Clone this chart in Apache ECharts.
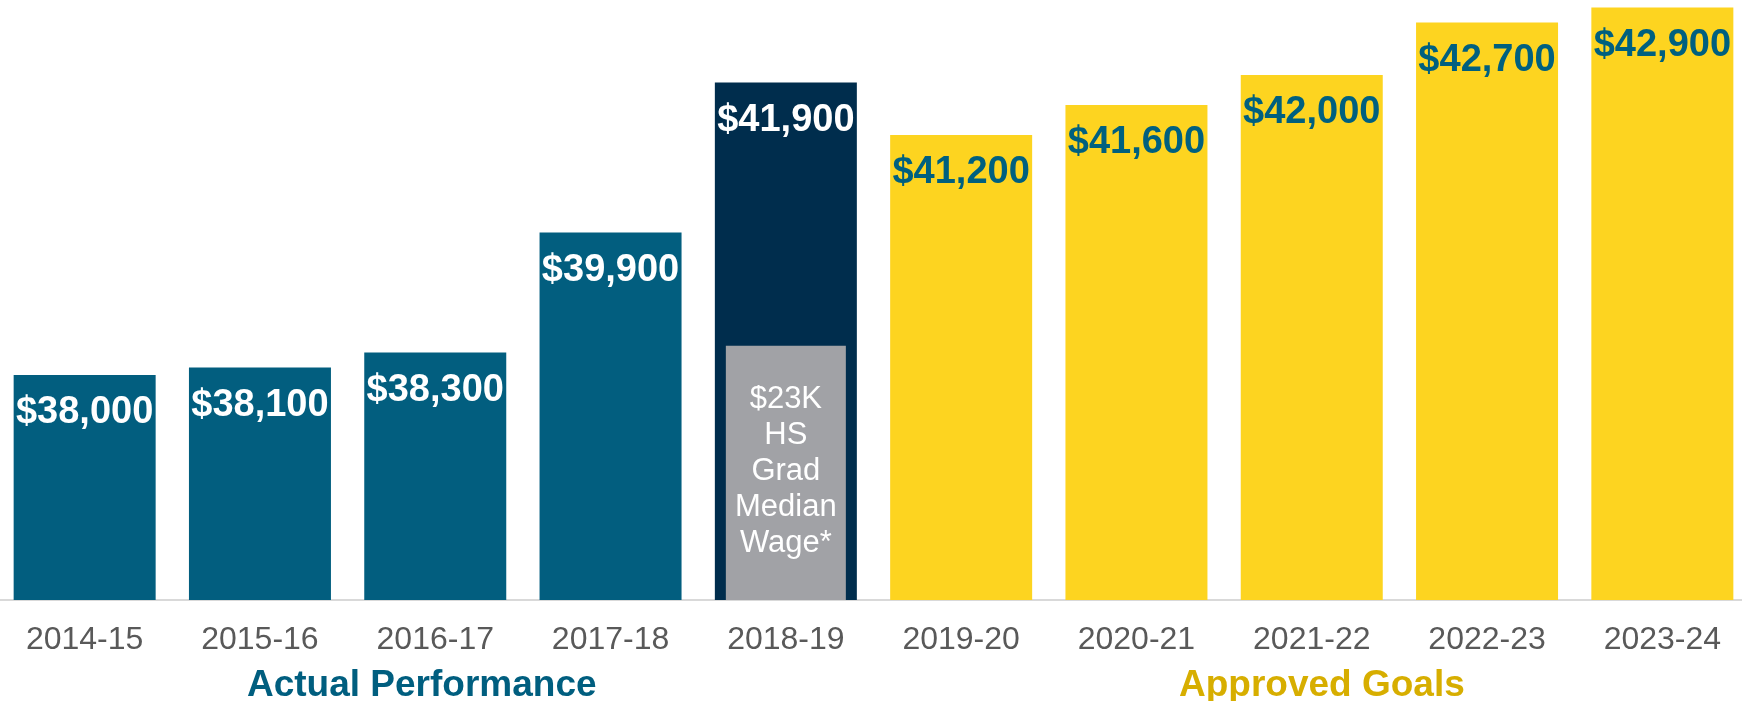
<!DOCTYPE html>
<html>
<head>
<meta charset="utf-8">
<title>Median Wage</title>
<script src="https://cdn.jsdelivr.net/npm/echarts@6/dist/echarts.min.js"></script>
<style>
  html, body { margin: 0; padding: 0; background: #fff; overflow: hidden; }
  /* a bit wider than the window and nudged left, so the outer bars sit like the original */
  #chart { width: 1753px; height: 701px; position: relative; left: -3px; }
</style>
</head>
<body>
<div id="chart"></div>
<script>
'use strict';
// data
const years = ['2014-15', '2015-16', '2016-17', '2017-18', '2018-19',
  '2019-20', '2020-21', '2021-22', '2022-23', '2023-24'];
const wages = [38000, 38100, 38300, 39900, 41900, 41200, 41600, 42000, 42700, 42900];
// kind of each bar: actual, current year, goal
const kinds = ['actual', 'actual', 'actual', 'actual', 'current',
  'goal', 'goal', 'goal', 'goal', 'goal'];
// grey inset box on the 2018-19 bar (its height in axis units)
const hsBox = [null, null, null, null, 38390, null, null, null, null, null];
const hsText = '$23K\nHS\nGrad\nMedian\nWage*';

const fill = { actual: '#025E7F', current: '#002D4D', goal: '#FDD420' };
const labelColor = { actual: '#FFFFFF', current: '#FFFFFF', goal: '#00607F' };

const chart = echarts.init(document.getElementById('chart'));

const barData = wages.map((v, i) => ({
  value: v,
  itemStyle: { color: fill[kinds[i]] },
  label: { color: labelColor[kinds[i]] }
}));

const option = {
  animation: false,
  grid: { left: 0, right: 0, top: 0, bottom: 101 },
  xAxis: [
    {
      type: 'category',
      data: years,
      axisLine: { lineStyle: { color: '#D9D9D9', width: 2 } },
      axisTick: { show: false },
      axisLabel: {
        color: '#595959',
        fontFamily: 'Liberation Sans, Arial, sans-serif',
        fontSize: 32,
        margin: 24
      }
    },
    { type: 'category', data: years, show: false }
  ],
  yAxis: { type: 'value', min: 35000, max: 43000, show: false },
  series: [
    {
      type: 'bar',
      data: barData,
      barWidth: 142,
      label: {
        show: true,
        position: 'insideTop',
        distance: 19,
        fontFamily: 'Liberation Sans, Arial, sans-serif',
        fontWeight: 'bold',
        fontSize: 38,
        formatter: p => '$' + p.value.toLocaleString('en-US')
      }
    },
    {
      type: 'bar',
      xAxisIndex: 1,
      data: hsBox,
      barWidth: 120,
      itemStyle: { color: '#A1A2A6' },
      label: {
        show: true,
        position: 'insideTop',
        distance: 36,
        color: '#FFFFFF',
        fontFamily: 'Liberation Sans, Arial, sans-serif',
        fontSize: 31,
        lineHeight: 36,
        formatter: hsText
      }
    }
  ],
  graphic: [
    {
      type: 'text',
      left: 250,
      top: 667,
      style: {
        text: 'Actual Performance',
        fill: '#005E7F',
        font: 'bold 37px "Liberation Sans", Arial, sans-serif'
      }
    },
    {
      type: 'text',
      left: 1182,
      top: 667,
      style: {
        text: 'Approved Goals',
        fill: '#D7AE00',
        font: 'bold 37px "Liberation Sans", Arial, sans-serif'
      }
    }
  ]
};

chart.setOption(option);
</script>
</body>
</html>
